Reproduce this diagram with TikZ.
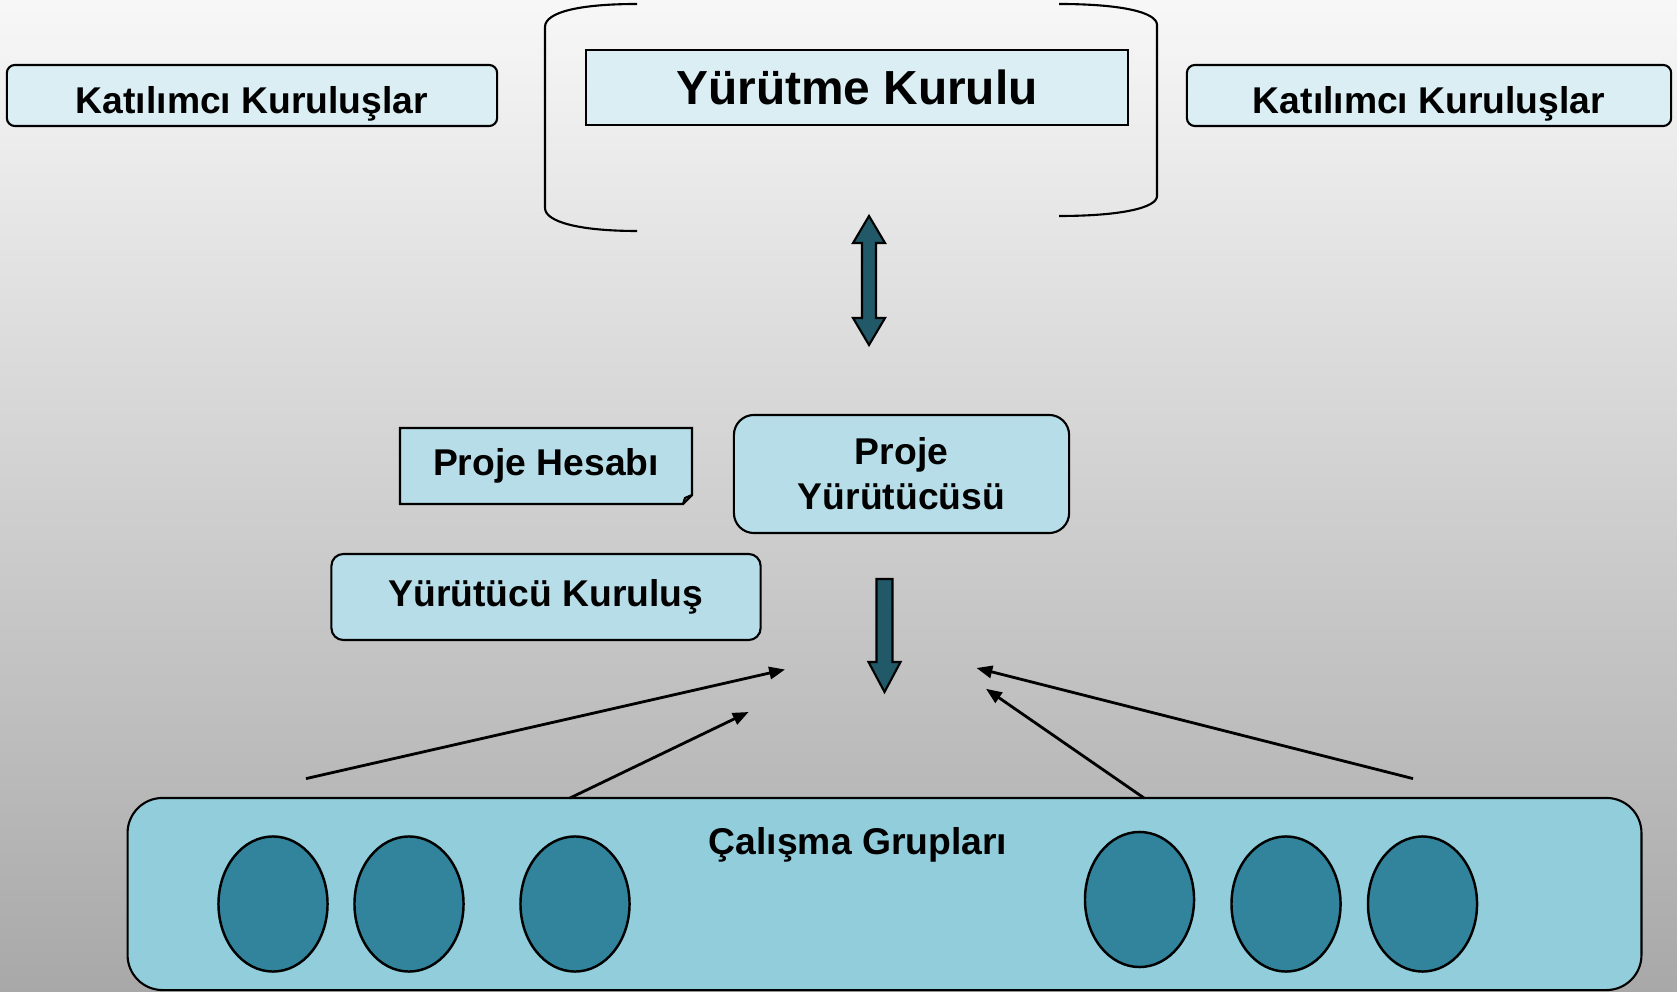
\documentclass[tikz,border=0pt]{standalone}
\usepackage{fontspec}
\setmainfont{Liberation Sans}
\usetikzlibrary{shapes.geometric,arrows.meta}

\definecolor{paleblue}{RGB}{218,238,243}
\definecolor{midblue}{RGB}{183,222,232}
\definecolor{grpblue}{RGB}{146,205,220}
\definecolor{grpteal}{RGB}{49,132,155}
\definecolor{arrowteal}{RGB}{33,89,104}

\tikzset{
  boxtext/.style={font=\fontsize{10.6}{12.8}\selectfont\bfseries, align=center},
  palebox/.style={boxtext, draw, line width=0.6pt, fill=paleblue, inner sep=0pt},
  midbox/.style={boxtext, draw, line width=0.6pt, fill=midblue, inner sep=0pt},
  grpbox/.style={draw, line width=0.6pt, fill=grpblue, rounded corners=0.35cm},
  grpcircle/.style={ellipse, draw, line width=0.7pt, fill=grpteal,
    minimum width=1.09cm, minimum height=1.35cm},
  blockarrow/.style={draw, line width=0.6pt, fill=arrowteal},
  thinarrow/.style={line width=0.8pt, -{Triangle[length=4.5pt,width=3.5pt]}}
}

\begin{document}
\begin{tikzpicture}[x=0.01cm,y=-0.01cm]
	\shade[top color=black!3, bottom color=black!34] (0,0) rectangle (1677,992);
	\useasboundingbox (0,0) rectangle (1677,992);

	% top row
	\node[palebox, rounded corners=0.08cm, text height=3.6mm, text depth=0pt, minimum width=4.9cm, minimum height=0.61cm] (kat1) at (252,95.5) {Katılımcı Kuruluşlar};
	\node[palebox, rounded corners=0.08cm, text height=3.6mm, text depth=0pt, minimum width=4.84cm, minimum height=0.61cm] (kat2) at (1429,95.5) {Katılımcı Kuruluşlar};
	\node[palebox, font=\fontsize{13.6}{16}\selectfont\bfseries, minimum width=5.42cm, minimum height=0.75cm] (yk) at (857,87.5) {Yürütme Kurulu};

	% bracket
	\draw[line width=0.6pt] (637,4) .. controls (580,4) and (545,12) .. (545,27) -- (545,208) .. controls (545,222) and (580,231) .. (637,231);
	\draw[line width=0.6pt] (1059,4) .. controls (1120,4) and (1157,12) .. (1157,25) -- (1157,196) .. controls (1157,208) and (1120,216) .. (1059,216);

	\draw[blockarrow] (869,216) -- (885,243) -- (876,243) -- (876,318) -- (885,318) -- (869,345) -- (853,318) -- (862,318) -- (862,243) -- (853,243) -- cycle;

	% middle
	\draw[line width=0.6pt, fill=midblue] (400,428) -- (692,428) -- (692,495) -- (683,504) -- (400,504) -- cycle;
	\draw[line width=0.6pt] (683,504) -- (685,498) -- (692,495);
	\node[boxtext] (ph) at (546,466) {Proje Hesabı};

	\node[midbox, rounded corners=0.2cm, minimum width=3.35cm, minimum height=1.18cm] (py) at (901.5,474) {Proje\\Yürütücüsü};
	\node[midbox, rounded corners=0.12cm, minimum width=4.29cm, minimum height=0.86cm] (ykur) at (546,597) {Yürütücü Kuruluş};

	\draw[blockarrow] (876.5,579) -- (892.5,579) -- (892.5,662) -- (900.5,662) -- (884.5,692) -- (868.5,662) -- (876.5,662) -- cycle;

	% groups
	\node[grpbox, minimum width=15.13cm, minimum height=1.92cm] (grp) at (884.5,894) {};
	\node[boxtext] (grptitle) at (858,845) {Çalışma Grupları};
	\foreach \gx/\gy [count=\i] in {273/904, 409/904, 575/904, 1139.5/899.5, 1286/904, 1422.5/904}
		\node[grpcircle] (g\i) at (\gx,\gy) {};

	\coordinate (fromA) at (306,778.6);
	\coordinate (toA) at (785,669.5);
	\coordinate (fromB) at (570,798);
	\coordinate (toB) at (748.6,712);
	\coordinate (fromC) at (1144,798);
	\coordinate (toC) at (986,688.8);
	\coordinate (fromD) at (1413,778.6);
	\coordinate (toD) at (976.5,668);
	\draw[thinarrow] (fromA) -- (toA);
	\draw[thinarrow] (fromB) -- (toB);
	\draw[thinarrow] (fromC) -- (toC);
	\draw[thinarrow] (fromD) -- (toD);
\end{tikzpicture}
\end{document}
